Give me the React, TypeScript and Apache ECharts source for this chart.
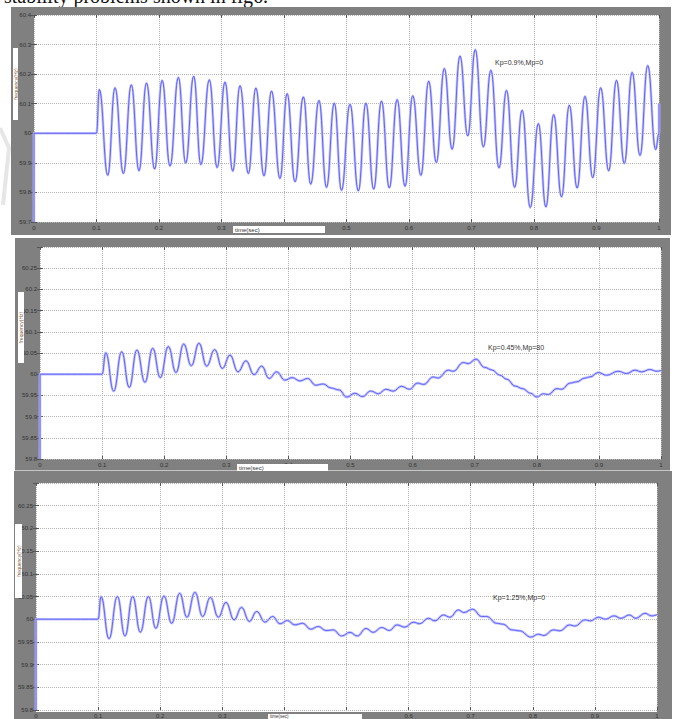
import React, { useEffect, useRef } from 'react';
import * as echarts from 'echarts';

const caption = 'stability problems shown in fig6.';
const xTitle = 'time(sec)';
const yTitle = 'frequency(Hz)';
const panelNotes = ['Kp=0.9%,Mp=0', 'Kp=0.45%,Mp=80', 'Kp=1.25%,Mp=0'];

const freqKp09: [number, number][] = [
  [0, 59.7], [0, 60], [0.1, 60],
  [0.1045, 60.148], [0.118, 59.858], [0.1296, 60.154], [0.143, 59.864], [0.1557, 60.164], [0.168, 59.873],
  [0.18, 60.17], [0.193, 59.879], [0.205, 60.179], [0.2176, 59.889], [0.231, 60.189], [0.2427, 59.899],
  [0.2555, 60.193], [0.267, 59.894], [0.2805, 60.181], [0.293, 59.884], [0.3056, 60.173], [0.318, 59.872],
  [0.3296, 60.161], [0.343, 59.864], [0.355, 60.153], [0.368, 59.856], [0.38, 60.143], [0.3936, 59.847],
  [0.405, 60.134], [0.4176, 59.836], [0.431, 60.123], [0.4427, 59.828], [0.456, 60.111], [0.468, 59.817],
  [0.4805, 60.102], [0.492, 59.807], [0.5056, 60.098], [0.519, 59.805], [0.531, 60.102], [0.5435, 59.811],
  [0.556, 60.109], [0.5685, 59.815], [0.581, 60.114], [0.5936, 59.821], [0.606, 60.127], [0.619, 59.858],
  [0.6315, 60.176], [0.6437, 59.901], [0.6565, 60.219], [0.669, 59.946], [0.6816, 60.261], [0.694, 59.991],
  [0.706, 60.283], [0.719, 59.954], [0.731, 60.213], [0.744, 59.883], [0.756, 60.145], [0.769, 59.817],
  [0.781, 60.078], [0.794, 59.749], [0.807, 60.033], [0.819, 59.751], [0.8315, 60.063], [0.844, 59.785],
  [0.8565, 60.095], [0.869, 59.815], [0.8816, 60.125], [0.894, 59.85], [0.9067, 60.154], [0.9195, 59.873],
  [0.932, 60.179], [0.9445, 59.898], [0.957, 60.206], [0.9696, 59.925], [0.982, 60.229], [0.9947, 59.945],
  [1.0, 60.0], [1.0, 60.1],
];

const freqKp045: [number, number][] = [
  [0, 59.8], [0, 60], [0.1, 60],
  [0.1058, 60.0505], [0.1187, 59.96], [0.1315, 60.053], [0.1438, 59.969], [0.156, 60.057], [0.169, 59.981],
  [0.1815, 60.061], [0.1937, 59.992], [0.2066, 60.065], [0.219, 60.004], [0.2314, 60.071], [0.2437, 60.02],
  [0.256, 60.073], [0.2684, 60.019], [0.2813, 60.058], [0.2936, 60.0135], [0.306, 60.045], [0.3188, 60.0055],
  [0.3317, 60.0315], [0.3446, 59.999], [0.357, 60.019], [0.369, 59.99], [0.381, 60.0055], [0.3945, 59.986],
  [0.406, 59.992], [0.4187, 59.984], [0.431, 59.99], [0.444, 59.974], [0.456, 59.977], [0.4686, 59.9675],
  [0.4815, 59.963], [0.494, 59.946], [0.507, 59.955], [0.5196, 59.947], [0.5325, 59.9605], [0.545, 59.954],
  [0.557, 59.9645], [0.569, 59.96], [0.582, 59.9715], [0.595, 59.9645], [0.6076, 59.979], [0.618, 59.976],
  [0.633, 59.9935], [0.641, 59.991], [0.6575, 60.0095], [0.6655, 60.007], [0.6817, 60.0275], [0.6897, 60.025],
  [0.702, 60.0355], [0.716, 60.016], [0.728, 60.01], [0.74, 59.998], [0.752, 59.988], [0.765, 59.972],
  [0.777, 59.966], [0.79, 59.955], [0.8, 59.946], [0.8105, 59.954], [0.8186, 59.952], [0.832, 59.966],
  [0.84, 59.9645], [0.8535, 59.979], [0.864, 59.982], [0.8776, 59.991], [0.8857, 59.9936], [0.899, 60.004],
  [0.9125, 59.9976], [0.931, 60.007], [0.9447, 60.0016], [0.958, 60.0095], [0.969, 60.0055], [0.982, 60.011],
  [0.993, 60.007], [1.0, 60.0088],
];

const freqKp125: [number, number][] = [
  [0, 59.8], [0, 60], [0.1, 60],
  [0.1047, 60.0498], [0.1176, 59.957], [0.131, 60.05], [0.1433, 59.963], [0.1557, 60.05], [0.168, 59.9715],
  [0.181, 60.05], [0.193, 59.98], [0.206, 60.051], [0.2185, 59.991], [0.2314, 60.057], [0.243, 60.0044],
  [0.256, 60.059], [0.2684, 60.006], [0.2807, 60.048], [0.2936, 60.0044], [0.306, 60.037], [0.319, 59.9985],
  [0.331, 60.026], [0.3435, 59.995], [0.3554, 60.017], [0.3688, 59.9934], [0.381, 60.006], [0.393, 59.99],
  [0.4047, 59.997], [0.417, 59.9875], [0.4295, 59.991], [0.4423, 59.978], [0.4546, 59.984], [0.467, 59.975],
  [0.4788, 59.9765], [0.492, 59.963], [0.5056, 59.971], [0.5174, 59.963], [0.5314, 59.9796], [0.543, 59.971],
  [0.5567, 59.9818], [0.569, 59.975], [0.581, 59.9875], [0.594, 59.9825], [0.6076, 59.9934], [0.618, 59.99],
  [0.6318, 60.002], [0.6425, 59.9963], [0.6559, 60.0094], [0.6667, 60.0044], [0.68, 60.0204], [0.689, 60.0147],
  [0.703, 60.022], [0.7175, 60.006], [0.7257, 60.006], [0.7418, 59.991], [0.7525, 59.989], [0.766, 59.9765],
  [0.779, 59.9744], [0.7966, 59.9605], [0.809, 59.967], [0.818, 59.964], [0.833, 59.9765], [0.844, 59.9744],
  [0.8588, 59.9875], [0.868, 59.985], [0.884, 59.9985], [0.893, 59.9963], [0.9055, 60.0044], [0.917, 60.0],
  [0.9308, 60.0073], [0.942, 60.002], [0.9554, 60.0094], [0.966, 60.002], [0.9807, 60.013], [0.9915, 60.0073],
  [1.0, 60.01],
];

const yRanges = [
  { min: 59.7, max: 60.4, interval: 0.1, showMax: true },
  { min: 59.8, max: 60.3, interval: 0.05, showMax: false },
  { min: 59.8, max: 60.3, interval: 0.05, showMax: false },
];
const seriesData = [freqKp09, freqKp045, freqKp125];

// layout (pixels)
const layout = [
  { grid: { left: 34, top: 15, width: 625, height: 207 }, frame: [11, 7, 660, 228], yBox: [13, 48, 5, 72], xBox: [233, 226, 92, 7], xFont: 6, note: [495, 62] },
  { grid: { left: 40, top: 247, width: 621, height: 212 }, frame: [15, 238, 655, 233], yBox: [18, 292, 6, 71], xBox: [237, 464, 91, 7], xFont: 6, note: [488, 347] },
  { grid: { left: 36, top: 483, width: 621, height: 229 }, frame: [14, 471, 658, 248], yBox: [15, 524, 7, 74], xBox: [268, 714, 94, 5], xFont: 4.5, note: [493, 597] },
];

const fmt = (v: number) => String(parseFloat(v.toFixed(2)));

function buildOption() {
  const grids: any[] = [];
  const xAxes: any[] = [];
  const yAxes: any[] = [];
  const series: any[] = [];
  const graphics: any[] = [];

  graphics.push({
    type: 'text', x: 4, y: 6, z: -30,
    style: { text: caption, font: '20px "Liberation Serif", serif', fill: '#111', verticalAlign: 'bottom', align: 'left' },
  });
  // faint watermark strokes from the scanned page
  graphics.push({ type: 'polyline', z: -40, shape: { points: [[0, 128], [9, 148], [3, 205]] }, style: { stroke: '#e6e6e6', lineWidth: 4, fill: 'none' } });

  layout.forEach((L, i) => {
    const r = yRanges[i];
    grids.push({ ...L.grid, show: false, containLabel: false });
    const tick = { show: true, inside: true, length: 3, lineStyle: { color: '#555', width: 1 } };
    xAxes.push({
      type: 'value', gridIndex: i, min: 0, max: 1, interval: 0.1, position: 'bottom',
      axisLine: { show: false }, axisTick: tick,
      axisLabel: { fontSize: 6, color: '#333', margin: 3, fontFamily: 'Liberation Sans', formatter: (v: number) => fmt(v) },
      splitLine: { show: true, lineStyle: { type: 'dotted', color: '#b4b4b4', width: 1 } },
    });
    xAxes.push({
      type: 'value', gridIndex: i, min: 0, max: 1, interval: 0.1, position: 'top',
      axisLine: { show: false }, axisTick: tick, axisLabel: { show: false }, splitLine: { show: false },
    });
    yAxes.push({
      type: 'value', gridIndex: i, min: r.min, max: r.max, interval: r.interval, position: 'left',
      axisLine: { show: false }, axisTick: tick,
      axisLabel: {
        fontSize: 6, color: '#333', margin: 3, fontFamily: 'Liberation Sans',
        formatter: (v: number) => (!r.showMax && Math.abs(v - r.max) < 1e-6 ? '' : fmt(v)),
      },
      splitLine: { show: true, lineStyle: { type: 'dotted', color: '#b4b4b4', width: 1 } },
    });
    yAxes.push({
      type: 'value', gridIndex: i, min: r.min, max: r.max, interval: r.interval, position: 'right',
      axisLine: { show: false }, axisTick: tick, axisLabel: { show: false }, splitLine: { show: false },
    });
    series.push({
      type: 'line', xAxisIndex: 2 * i, yAxisIndex: 2 * i, data: seriesData[i], showSymbol: false,
      smooth: 0.45, smoothMonotone: 'x', lineStyle: { color: '#c2c4ff', width: 2.6 }, z: 2, silent: true,
    });
    series.push({
      type: 'line', xAxisIndex: 2 * i, yAxisIndex: 2 * i, data: seriesData[i], showSymbol: false,
      smooth: 0.45, smoothMonotone: 'x', lineStyle: { color: '#5656f6', width: 0.9 }, z: 3, silent: true,
    });

    const [fx, fy, fw, fh] = L.frame;
    graphics.push({ type: 'rect', z: -20, shape: { x: fx, y: fy, width: fw, height: fh }, style: { fill: '#808080' } });
    graphics.push({ type: 'rect', z: -15, shape: { x: L.grid.left, y: L.grid.top, width: L.grid.width, height: L.grid.height }, style: { fill: '#ffffff' } });
    const [bx, by, bw, bh] = L.yBox;
    graphics.push({ type: 'rect', z: 100, shape: { x: bx, y: by, width: bw, height: bh }, style: { fill: '#ffffff' } });
    graphics.push({
      type: 'text', z: 101, x: bx + bw / 2, y: by + bh / 2, rotation: Math.PI / 2,
      style: { text: yTitle, font: '5px "Liberation Sans"', fill: '#8a6040', align: 'center', verticalAlign: 'middle' },
    });
    const [tx, ty, tw, th] = L.xBox;
    graphics.push({ type: 'rect', z: 100, shape: { x: tx, y: ty, width: tw, height: th }, style: { fill: '#ffffff' } });
    graphics.push({
      type: 'text', z: 101, x: tx + 2, y: ty + th / 2,
      style: { text: xTitle, font: `${L.xFont}px "Liberation Sans"`, fill: '#333', align: 'left', verticalAlign: 'middle' },
    });
    graphics.push({
      type: 'text', z: 50, x: L.note[0], y: L.note[1],
      style: { text: panelNotes[i], font: '7px "Liberation Sans"', fill: '#333', align: 'left', verticalAlign: 'middle' },
    });
  });
  graphics.push({ type: 'line', z: -10, shape: { x1: 15, y1: 470.5, x2: 670, y2: 470.5 }, style: { stroke: '#c4c4c4', lineWidth: 1 } });

  return {
    animation: false,
    backgroundColor: '#ffffff',
    grid: grids,
    xAxis: xAxes,
    yAxis: yAxes,
    series,
    graphic: { elements: graphics },
  };
}

export default function App() {
  const ref = useRef<HTMLDivElement>(null);
  useEffect(() => {
    const chart = echarts.init(ref.current!, null, { renderer: 'svg' });
    chart.setOption(buildOption());
    return () => chart.dispose();
  }, []);
  return (
    <div
      ref={ref}
      style={{ position: 'fixed', left: 0, top: 0, width: 680, height: 719, background: '#fff' }}
    />
  );
}
